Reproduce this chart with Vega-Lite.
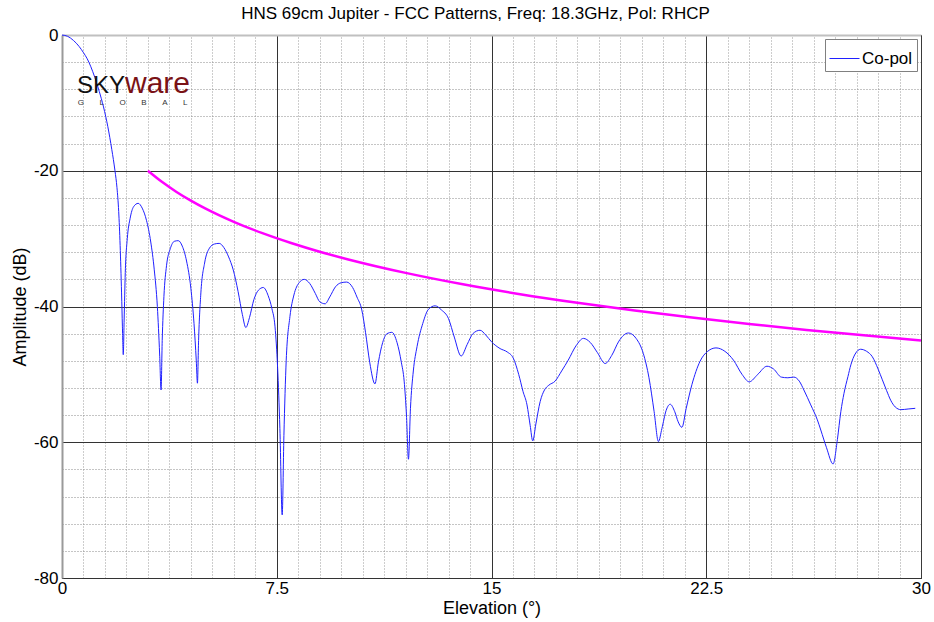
{
  "$schema": "https://vega.github.io/schema/vega-lite/v6.json",
  "width": 859,
  "height": 543,
  "autosize": {"type": "none"},
  "padding": {"left": 62, "top": 35, "right": 13, "bottom": 44},
  "background": "white",
  "title": {
    "text": "HNS 69cm Jupiter - FCC Patterns, Freq: 18.3GHz, Pol: RHCP",
    "font": "Liberation Sans",
    "fontSize": 17,
    "fontWeight": "normal",
    "color": "black",
    "anchor": "middle",
    "dx": -16,
    "offset": -14,
    "baseline": "bottom"
  },
  "config": {
    "font": "Liberation Sans",
    "view": {"stroke": "#3a3a3a", "strokeWidth": 1},
    "axis": {"labelFont": "Liberation Sans", "titleFont": "Liberation Sans", "labelColor": "black", "titleColor": "black", "titleFontWeight": "normal"}
  },
  "datasets": {
    "copol": [
      {"el":0,"amp":0},{"el":0.2,"amp":-0.2},{"el":0.4,"amp":-0.8},{"el":0.6,"amp":-1.7},{"el":0.75,"amp":-2.6},{"el":0.88,"amp":-3.5},{"el":1.0,"amp":-4.6},{"el":1.15,"amp":-6.3},{"el":1.3,"amp":-8.3},{"el":1.45,"amp":-10.6},{"el":1.6,"amp":-13.5},{"el":1.74,"amp":-16.9},{"el":1.85,"amp":-20},{"el":1.92,"amp":-22.5},{"el":1.98,"amp":-26},{"el":2.03,"amp":-31},{"el":2.08,"amp":-38},{"el":2.11,"amp":-43},{"el":2.14,"amp":-47.1},{"el":2.17,"amp":-42},{"el":2.21,"amp":-35},{"el":2.28,"amp":-30},{"el":2.38,"amp":-27},{"el":2.5,"amp":-25.3},{"el":2.66,"amp":-24.8},{"el":2.8,"amp":-25.5},{"el":2.95,"amp":-27.3},{"el":3.1,"amp":-30.5},{"el":3.22,"amp":-34.5},{"el":3.33,"amp":-40},{"el":3.41,"amp":-47},{"el":3.46,"amp":-52.3},{"el":3.5,"amp":-45},{"el":3.56,"amp":-38.5},{"el":3.65,"amp":-34},{"el":3.78,"amp":-31.5},{"el":3.92,"amp":-30.4},{"el":4.06,"amp":-30.3},{"el":4.2,"amp":-31.1},{"el":4.35,"amp":-33.3},{"el":4.5,"amp":-37.3},{"el":4.61,"amp":-42.5},{"el":4.69,"amp":-48},{"el":4.73,"amp":-51.3},{"el":4.77,"amp":-45},{"el":4.85,"amp":-38},{"el":4.98,"amp":-33.6},{"el":5.15,"amp":-31.4},{"el":5.32,"amp":-30.8},{"el":5.49,"amp":-30.7},{"el":5.65,"amp":-31.3},{"el":5.82,"amp":-32.7},{"el":5.98,"amp":-34.6},{"el":6.15,"amp":-37.8},{"el":6.3,"amp":-41.2},{"el":6.42,"amp":-43.1},{"el":6.55,"amp":-41.6},{"el":6.7,"amp":-39},{"el":6.86,"amp":-37.6},{"el":7.03,"amp":-37.2},{"el":7.2,"amp":-38.4},{"el":7.33,"amp":-40.3},{"el":7.44,"amp":-43},{"el":7.53,"amp":-49},{"el":7.61,"amp":-58},{"el":7.69,"amp":-70.7},{"el":7.75,"amp":-59},{"el":7.83,"amp":-48},{"el":7.96,"amp":-41.5},{"el":8.1,"amp":-38.3},{"el":8.28,"amp":-36.5},{"el":8.46,"amp":-36.0},{"el":8.65,"amp":-36.6},{"el":8.85,"amp":-38.1},{"el":9.0,"amp":-39.3},{"el":9.19,"amp":-39.6},{"el":9.35,"amp":-38.6},{"el":9.55,"amp":-37.1},{"el":9.75,"amp":-36.5},{"el":9.94,"amp":-36.4},{"el":10.15,"amp":-37.2},{"el":10.3,"amp":-38.6},{"el":10.47,"amp":-40.5},{"el":10.6,"amp":-43.8},{"el":10.75,"amp":-48.3},{"el":10.93,"amp":-51.4},{"el":11.05,"amp":-48.2},{"el":11.2,"amp":-45.3},{"el":11.35,"amp":-44},{"el":11.52,"amp":-43.8},{"el":11.7,"amp":-45.3},{"el":11.85,"amp":-48.2},{"el":11.95,"amp":-51},{"el":12.03,"amp":-56},{"el":12.1,"amp":-62.5},{"el":12.17,"amp":-55},{"el":12.27,"amp":-49.5},{"el":12.4,"amp":-45.9},{"el":12.6,"amp":-42.5},{"el":12.8,"amp":-40.4},{"el":13.03,"amp":-39.9},{"el":13.25,"amp":-40.5},{"el":13.5,"amp":-41.8},{"el":13.7,"amp":-44.5},{"el":13.94,"amp":-47.3},{"el":14.15,"amp":-45.6},{"el":14.35,"amp":-44},{"el":14.6,"amp":-43.5},{"el":14.8,"amp":-44.2},{"el":15.0,"amp":-45.2},{"el":15.3,"amp":-46.2},{"el":15.55,"amp":-46.7},{"el":15.76,"amp":-47.6},{"el":15.95,"amp":-50},{"el":16.1,"amp":-52.5},{"el":16.24,"amp":-54.5},{"el":16.35,"amp":-57.5},{"el":16.44,"amp":-59.8},{"el":16.55,"amp":-57.3},{"el":16.7,"amp":-54},{"el":16.85,"amp":-52.3},{"el":17.0,"amp":-51.6},{"el":17.22,"amp":-51.0},{"el":17.45,"amp":-49.5},{"el":17.68,"amp":-47.9},{"el":17.95,"amp":-45.8},{"el":18.21,"amp":-44.7},{"el":18.45,"amp":-45.3},{"el":18.7,"amp":-46.8},{"el":18.97,"amp":-48.4},{"el":19.2,"amp":-47.2},{"el":19.45,"amp":-45.1},{"el":19.78,"amp":-43.9},{"el":20.05,"amp":-44.7},{"el":20.3,"amp":-46.9},{"el":20.5,"amp":-50.5},{"el":20.68,"amp":-55.5},{"el":20.83,"amp":-59.9},{"el":20.95,"amp":-58},{"el":21.1,"amp":-55.3},{"el":21.24,"amp":-54.4},{"el":21.4,"amp":-55.5},{"el":21.52,"amp":-57},{"el":21.65,"amp":-57.8},{"el":21.8,"amp":-55},{"el":22.0,"amp":-51.5},{"el":22.28,"amp":-48.1},{"el":22.55,"amp":-46.6},{"el":22.84,"amp":-46.1},{"el":23.15,"amp":-46.6},{"el":23.45,"amp":-47.9},{"el":23.75,"amp":-50},{"el":24.0,"amp":-51.1},{"el":24.3,"amp":-50},{"el":24.62,"amp":-48.8},{"el":24.85,"amp":-49.2},{"el":25.12,"amp":-50.4},{"el":25.35,"amp":-50.5},{"el":25.56,"amp":-50.4},{"el":25.75,"amp":-51},{"el":25.91,"amp":-52.3},{"el":26.15,"amp":-54.5},{"el":26.38,"amp":-56.7},{"el":26.5,"amp":-58.2},{"el":26.7,"amp":-60.8},{"el":26.93,"amp":-63.2},{"el":27.08,"amp":-59.6},{"el":27.2,"amp":-55.5},{"el":27.31,"amp":-52.8},{"el":27.45,"amp":-50.3},{"el":27.55,"amp":-48.6},{"el":27.7,"amp":-47},{"el":27.89,"amp":-46.3},{"el":28.1,"amp":-46.6},{"el":28.3,"amp":-47.4},{"el":28.5,"amp":-49.2},{"el":28.65,"amp":-50.8},{"el":28.8,"amp":-52.4},{"el":28.94,"amp":-53.8},{"el":29.1,"amp":-54.8},{"el":29.3,"amp":-55.2},{"el":29.55,"amp":-55.1},{"el":29.8,"amp":-55.0}
    ],
    "mask": [
      {"el":3,"amp":-20},{"el":3.5,"amp":-21.67},{"el":4,"amp":-23.12},{"el":4.5,"amp":-24.4},{"el":5,"amp":-25.55},{"el":6,"amp":-27.53},{"el":7,"amp":-29.2},{"el":8,"amp":-30.65},{"el":9,"amp":-31.93},{"el":10,"amp":-33.07},{"el":12,"amp":-35.05},{"el":14,"amp":-36.73},{"el":16,"amp":-38.18},{"el":18,"amp":-39.45},{"el":20,"amp":-40.6},{"el":22,"amp":-41.63},{"el":24,"amp":-42.58},{"el":26,"amp":-43.45},{"el":28,"amp":-44.25},{"el":30,"amp":-45.0}
    ],
    "logo": [
      {"t":"SKY","el":0.52,"amp":-8.55,"part":"sky"},
      {"t":"ware","el":2.2,"amp":-8.55,"part":"ware"},
      {"t":"G\u00a0\u00a0\u00a0\u00a0\u00a0\u00a0\u00a0L\u00a0\u00a0\u00a0\u00a0\u00a0\u00a0\u00a0O\u00a0\u00a0\u00a0\u00a0\u00a0\u00a0\u00a0B\u00a0\u00a0\u00a0\u00a0\u00a0\u00a0\u00a0A\u00a0\u00a0\u00a0\u00a0\u00a0\u00a0\u00a0L","el":0.55,"amp":-10.3,"part":"global"}
    ]
  },
  "layer": [
    {
      "data": {"name": "mask"},
      "mark": {"type": "line", "color": "#ff00ff", "strokeWidth": 2.5, "interpolate": "monotone"},
      "encoding": {
        "x": {"field": "el", "type": "quantitative", "scale": {"domain": [0, 30], "nice": false, "zero": false},
          "axis": {"orient": "top", "values": [0.75,1.5,2.25,3,3.75,4.5,5.25,6,6.75,8.25,9,9.75,10.5,11.25,12,12.75,13.5,14.25,15.75,16.5,17.25,18,18.75,19.5,20.25,21,21.75,23.25,24,24.75,25.5,26.25,27,27.75,28.5,29.25],
            "grid": true, "gridColor": "#9a9a9a", "gridDash": [1, 2], "gridWidth": 1, "labels": false, "ticks": false, "domain": true, "domainColor": "#c0c0c0", "domainWidth": 2, "title": null, "minExtent": 0, "maxExtent": 0, "offset": 0}},
        "y": {"field": "amp", "type": "quantitative", "scale": {"domain": [-80, 0], "nice": false, "zero": false},
          "axis": {"orient": "right", "values": [-76,-72,-68,-64,-56,-52,-48,-44,-36,-32,-28,-24,-16,-12,-8,-4],
            "grid": true, "gridColor": "#8a8a8a", "gridDash": [1, 2], "gridWidth": 1, "labels": false, "ticks": false, "domain": true, "domainColor": "#3a3a3a", "domainWidth": 1, "title": null, "minExtent": 0, "maxExtent": 0}}
      }
    },
    {
      "data": {"name": "copol"},
      "mark": {"type": "line", "strokeWidth": 1, "interpolate": "monotone"},
      "encoding": {
        "x": {"field": "el", "type": "quantitative", "scale": {"domain": [0, 30], "nice": false, "zero": false},
          "axis": {"orient": "bottom", "values": [0, 7.5, 15, 22.5, 30], "labelExpr": "toString(datum.value)", "grid": true, "gridColor": "#333333", "gridWidth": 1,
            "ticks": false, "domain": true, "domainColor": "#333333", "domainWidth": 1, "labelFontSize": 17, "labelPadding": 2, "labelFlush": false,
            "title": "Elevation (°)", "titleFontSize": 18, "titlePadding": 3}},
        "y": {"field": "amp", "type": "quantitative", "scale": {"domain": [-80, 0], "nice": false, "zero": false},
          "axis": {"orient": "left", "values": [-80, -60, -40, -20, 0], "labelExpr": "toString(datum.value)", "grid": true,
            "gridColor": {"condition": {"test": "datum.value === 0", "value": "#c0c0c0"}, "value": "#333333"}, "gridWidth": 1,
            "ticks": false, "domain": true, "domainColor": "#9a9a9a", "domainWidth": 2, "labelFontSize": 17, "labelPadding": 4, "labelFlush": false,
            "title": "Amplitude (dB)", "titleFontSize": 18, "titlePadding": 4}},
        "color": {"datum": "Co-pol", "type": "nominal", "scale": {"domain": ["Co-pol"], "range": ["#2020ff"]},
          "legend": {"title": null, "orient": "top-right", "offset": 4, "strokeColor": "#808080", "fillColor": "white", "padding": 4,
            "symbolType": "stroke", "symbolSize": 900, "symbolStrokeWidth": 1, "labelFontSize": 17, "labelFont": "Liberation Sans", "labelColor": "black", "labelOffset": 2, "cornerRadius": 0}}
      }
    },
    {
      "data": {"name": "logo"},
      "transform": [{"filter": "datum.part === 'sky'"}],
      "mark": {"type": "text", "align": "left", "baseline": "alphabetic", "fontSize": 24, "color": "#111111", "font": "Liberation Sans"},
      "encoding": {
        "x": {"field": "el", "type": "quantitative", "axis": null},
        "y": {"field": "amp", "type": "quantitative", "axis": null},
        "text": {"field": "t"}
      }
    },
    {
      "data": {"name": "logo"},
      "transform": [{"filter": "datum.part === 'ware'"}],
      "mark": {"type": "text", "align": "left", "baseline": "alphabetic", "fontSize": 30, "color": "#7a1216", "font": "Liberation Sans"},
      "encoding": {
        "x": {"field": "el", "type": "quantitative", "axis": null},
        "y": {"field": "amp", "type": "quantitative", "axis": null},
        "text": {"field": "t"}
      }
    },
    {
      "data": {"name": "logo"},
      "transform": [{"filter": "datum.part === 'global'"}],
      "mark": {"type": "text", "align": "left", "baseline": "alphabetic", "fontSize": 8, "color": "#333333", "font": "Liberation Sans"},
      "encoding": {
        "x": {"field": "el", "type": "quantitative", "axis": null},
        "y": {"field": "amp", "type": "quantitative", "axis": null},
        "text": {"field": "t"}
      }
    }
  ],
  "resolve": {"axis": {"x": "independent", "y": "independent"}}
}
